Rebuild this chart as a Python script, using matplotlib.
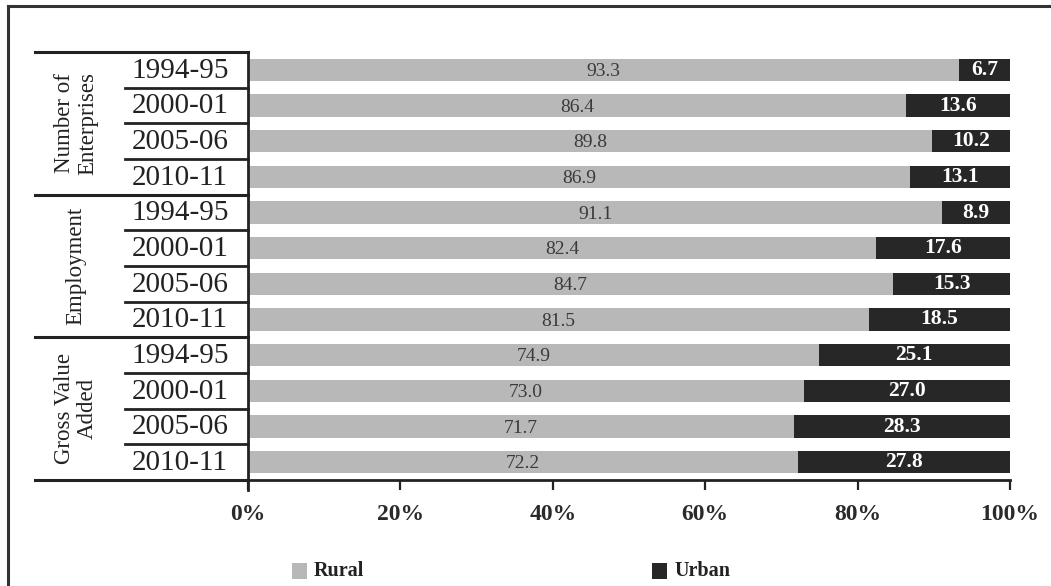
import matplotlib
matplotlib.use("Agg")
import matplotlib.pyplot as plt
from matplotlib.lines import Line2D
from matplotlib.patches import Rectangle
import numpy as np

# ---- data -------------------------------------------------------------
groups = ["Number of\nEnterprises", "Employment", "Gross Value\nAdded"]
years = ["1994-95", "2000-01", "2005-06", "2010-11"]

rural_enterprises = [93.3, 86.4, 89.8, 86.9]
urban_enterprises = [6.7, 13.6, 10.2, 13.1]
rural_employment = [91.1, 82.4, 84.7, 81.5]
urban_employment = [8.9, 17.6, 15.3, 18.5]
rural_gva = [74.9, 73.0, 71.7, 72.2]
urban_gva = [25.1, 27.0, 28.3, 27.8]

x_ticks = [0, 20, 40, 60, 80, 100]
x_tick_labels = ["0%", "20%", "40%", "60%", "80%", "100%"]
series_names = ["Rural", "Urban"]

rural = rural_enterprises + rural_employment + rural_gva
urban = urban_enterprises + urban_employment + urban_gva

# ---- style ------------------------------------------------------------
plt.rcParams["font.family"] = ["Liberation Serif", "DejaVu Serif"]
RURAL_C = "#b8b8b8"
URBAN_C = "#272727"
INK = "#222222"

W, H = 1051, 586
fig = plt.figure(figsize=(W / 100, H / 100), dpi=100)
fig.patch.set_facecolor("white")


def fx(px):
    return px / W


def fy(py):
    return 1 - py / H


ax = fig.add_axes([fx(248), fy(480), fx(1010) - fx(248), fy(52) - fy(480)])
n = len(rural)
rows = np.arange(n)

ax.barh(rows, rural, height=0.62, color=RURAL_C, edgecolor="none")
ax.barh(rows, urban, left=rural, height=0.62, color=URBAN_C, edgecolor="none")

for i in range(n):
    ax.text(rural[i] / 2, i + 0.05, f"{rural[i]:.1f}", ha="center", va="center",
            fontsize=14, color="#3a3a3a")
    ax.text(rural[i] + urban[i] / 2, i, f"{urban[i]:.1f}", ha="center", va="center",
            fontsize=15.5, color="white", fontweight="bold")

ax.set_xlim(0, 100)
ax.set_ylim(n - 0.5, -0.5)

for s in ["top", "right", "left"]:
    ax.spines[s].set_visible(False)
ax.spines["bottom"].set_linewidth(2)
ax.spines["bottom"].set_color(INK)

ax.set_yticks([])
ax.set_xticks(x_ticks)
ax.set_xticklabels(x_tick_labels, fontsize=17, fontweight="bold", color="#2a2a2a")
ax.tick_params(axis="x", direction="out", length=7.5, width=1.6, color=INK, pad=10)

# ---- row / group label table -------------------------------------------
yt = ax.get_yaxis_transform()
x_group = (35 - 248) / 762
x_row = (125 - 248) / 762

for b in [-0.5, 3.5, 7.5, 11.5]:
    ax.plot([x_group, 0], [b, b], transform=yt, color=INK, lw=2.2, clip_on=False)
for g in range(3):
    for k in range(1, 4):
        b = g * 4 + k - 0.5
        ax.plot([x_row, 0], [b, b], transform=yt, color=INK, lw=2.0, clip_on=False)

# vertical divider, running a little below the axis line
ax.plot([0, 0], [-0.5, 11.5 + 10 / 35.67], transform=yt, color=INK, lw=2.0,
        clip_on=False)

for i in range(n):
    ax.text((180 - 248) / 762, i + 0.02, years[i % 4], transform=yt,
            ha="center", va="center", fontsize=21, color=INK)

for g, name in enumerate(groups):
    ax.text((76 - 248) / 762, g * 4 + 1.5, name, transform=yt, rotation=90,
            ha="center", va="center", fontsize=16.5, color=INK,
            linespacing=1.1, multialignment="center")

# ---- legend ---------------------------------------------------------------
for (x0, col), name in zip([(292, RURAL_C), (652, URBAN_C)], series_names):
    fig.patches.append(Rectangle((fx(x0), fy(579)), fx(15), fy(563) - fy(579),
                                 transform=fig.transFigure, facecolor=col,
                                 edgecolor="none"))
    fig.text(fx(x0 + 22), fy(571), name, ha="left", va="center", fontsize=14.5,
             fontweight="bold", color=INK)

# ---- outer frame -------------------------------------------------------
fig.add_artist(Line2D([fx(8), 1], [fy(6), fy(6)], transform=fig.transFigure,
                      color="#333333", lw=2.2))
fig.add_artist(Line2D([fx(8), fx(8)], [fy(6), 0], transform=fig.transFigure,
                      color="#333333", lw=2.2))

fig.savefig("out.png", dpi=100, facecolor="white")
